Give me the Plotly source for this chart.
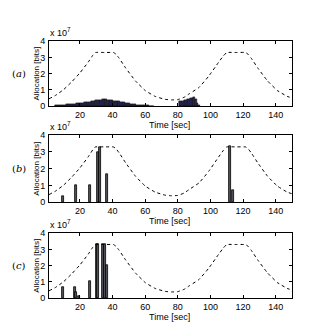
import plotly.graph_objects as go

# ---- data (values in units of 1e7 bits) ----
curve_t = [1, 5, 10, 15, 20, 25, 28, 29.5, 35, 40.5, 42, 44, 48, 54, 60, 66, 72, 76, 80, 84, 87, 93, 99, 105, 108, 110, 116, 121.5, 123, 125, 129, 135, 141, 147, 150]
curve_v = [0.45, 0.66, 1.02, 1.5, 2.05, 2.7, 3.15, 3.3, 3.3, 3.3, 3.2, 2.95, 2.35, 1.55, 0.96, 0.6, 0.42, 0.38, 0.4, 0.55, 0.76, 1.15, 1.85, 2.7, 3.1, 3.3, 3.3, 3.3, 3.2, 2.95, 2.35, 1.55, 0.96, 0.6, 0.5]

a_t = list(range(5, 66)) + list(range(81, 94))
a_v = [0.03, 0.04, 0.05, 0.06, 0.07, 0.08, 0.09, 0.1, 0.11, 0.12, 0.13, 0.14, 0.15, 0.16, 0.17, 0.18,
       0.2, 0.21, 0.23, 0.24, 0.26, 0.27, 0.29, 0.31, 0.33, 0.35, 0.37, 0.38, 0.39, 0.4, 0.4, 0.4,
       0.39, 0.38, 0.37, 0.35, 0.33, 0.31, 0.3, 0.28, 0.26, 0.24, 0.22, 0.2, 0.18, 0.17, 0.15, 0.13,
       0.12, 0.1, 0.09, 0.08, 0.07, 0.06, 0.05, 0.04, 0.03, 0.03, 0.02, 0.02, 0.01,
       0.28, 0.3, 0.33, 0.36, 0.38, 0.42, 0.45, 0.48, 0.52, 0.55, 0.45, 0.2, 0.05]

b_t = [9.5, 17.7, 26, 30.8, 32, 36.8, 111.8, 113.6]
b_v = [0.35, 1.0, 1.0, 3.0, 3.3, 1.68, 3.32, 0.71]

c_t = [9.5, 16.7, 17.7, 19.4, 26, 30.2, 31.3, 34.0, 35.1, 36.8]
c_v = [0.68, 0.68, 0.34, 0.1, 1.02, 3.32, 3.32, 3.32, 3.32, 2.05]

panel_labels = ["a", "b", "c"]
x_ticks = [20, 40, 60, 80, 100, 120, 140]
y_ticks = [0, 1, 2, 3, 4]

W, H = 314, 332
x_left, x_right = 41, 284
panels_px = [(29, 96), (126, 195), (227, 294)]

fig = go.Figure()
FONT = "Liberation Sans, Arial, sans-serif"

bars = [(a_t, a_v, 1.0, "#2a2a5c", 0.5), (b_t, b_v, 1.3, "#55555f", 0.8), (c_t, c_v, 1.2, "#55555f", 0.8)]

for i, (top, bot) in enumerate(panels_px):
    n = "" if i == 0 else str(i + 1)
    xa = "x" + n
    ya = "y" + n
    bt, bv, bw, col, lw = bars[i]
    fig.add_trace(go.Bar(x=bt, y=bv, width=bw, marker=dict(color=col, line=dict(color="black", width=lw)),
                         xaxis=xa, yaxis=ya, showlegend=False))
    fig.add_trace(go.Scatter(x=curve_t, y=curve_v, mode="lines",
                             line=dict(color="black", width=1, dash="3px,3px", shape="spline", smoothing=0.3),
                             xaxis=xa, yaxis=ya, showlegend=False))
    dom_x = [x_left / W, x_right / W]
    dom_y = [1 - bot / H, 1 - top / H]
    axcommon = dict(showline=True, linecolor="black", linewidth=1, mirror="ticks", ticks="inside",
                    ticklen=3, tickcolor="black", showgrid=False, zeroline=False,
                    tickfont=dict(family=FONT, size=9, color="black"))
    fig.layout["xaxis" + n] = dict(domain=dom_x, range=[1, 150], tickvals=x_ticks, anchor=ya, **axcommon)
    fig.layout["yaxis" + n] = dict(domain=dom_y, range=[0, 4], tickvals=y_ticks, anchor=xa, ticklabelstandoff=1, **axcommon)
    # annotations
    fig.add_annotation(x=161 / W, y=1 - (bot + 12) / H, xref="paper", yref="paper", text="Time [sec]",
                       showarrow=False, font=dict(family=FONT, size=9, color="black"), xanchor="center", yanchor="top")
    fig.add_annotation(x=29 / W, y=1 - ((top + bot) / 2) / H, xref="paper", yref="paper", text="Allocation [bits]",
                       showarrow=False, textangle=-90, font=dict(family=FONT, size=8, color="black"),
                       xanchor="center", yanchor="middle")
    fig.add_annotation(x=11 / W, y=1 - ((top + bot) / 2) / H, xref="paper", yref="paper",
                       text="(<i>" + panel_labels[i] + "</i>)", showarrow=False, xanchor="center", yanchor="middle",
                       font=dict(family="DejaVu Serif, serif", size=10, color="black"))
    fig.add_annotation(x=40 / W, y=1 - (top - 1) / H, xref="paper", yref="paper", text="x 10<sup>7</sup>",
                       showarrow=False, xanchor="left", yanchor="bottom",
                       font=dict(family=FONT, size=9, color="black"))

fig.update_layout(width=W, height=H, margin=dict(l=0, r=0, t=0, b=0), plot_bgcolor="white",
                  paper_bgcolor="white", bargap=0, barmode="overlay")
fig.write_html("out.html")
